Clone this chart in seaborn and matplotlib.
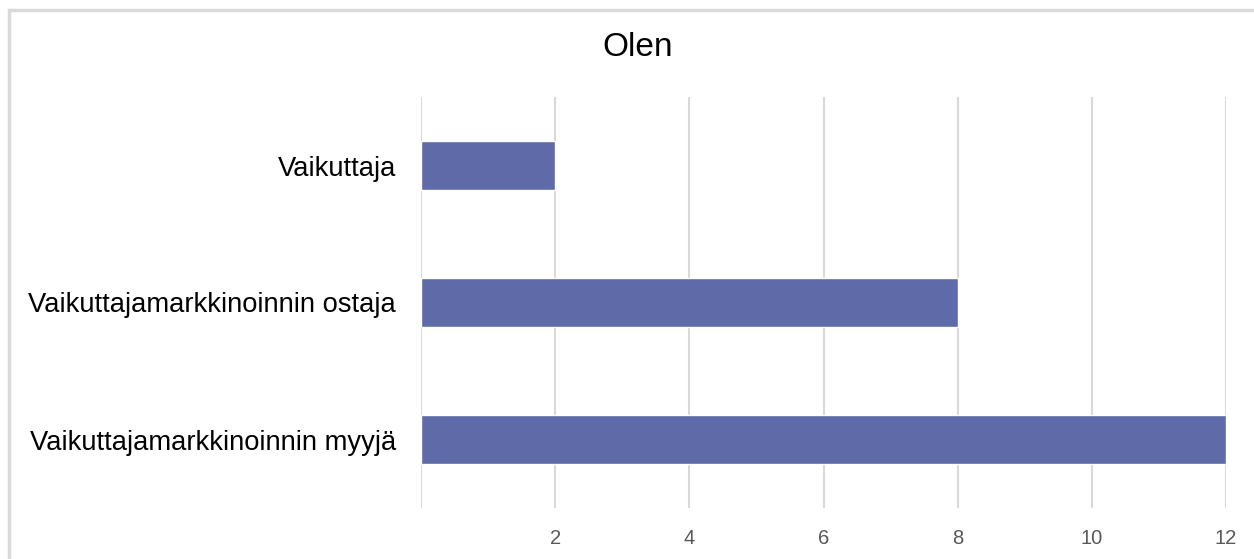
import matplotlib
matplotlib.use("Agg")
import matplotlib.pyplot as plt
import seaborn as sns
import pandas as pd
from matplotlib.patches import Rectangle

categories = ["Vaikuttaja", "Vaikuttajamarkkinoinnin ostaja", "Vaikuttajamarkkinoinnin myyjä"]
values = [2, 8, 12]
x_ticks = [0, 2, 4, 6, 8, 10, 12]
x_tick_labels = ["", "2", "4", "6", "8", "10", "12"]
title = "Olen"

sns.set_theme(style="white")
plt.rcParams["font.family"] = ["Liberation Sans", "DejaVu Sans"]

df = pd.DataFrame({"cat": categories, "val": values})

fig = plt.figure(figsize=(12.54, 5.59), dpi=100)
ax = fig.add_axes([421/1254, 1 - 508/559, (1226 - 421)/1254, (508 - 97)/559])

# frame border around chart (cropped on right/bottom)
fig.patches.append(Rectangle((9/1254, -0.05), 1.1, 1 - 10/559 + 0.05,
                             transform=fig.transFigure, fill=False,
                             edgecolor="#d9d9d9", linewidth=2.5, zorder=0))

sns.barplot(data=df, x="val", y="cat", orient="h", color="#5f6aa8",
            saturation=1, width=0.36, ax=ax, zorder=3)

ax.set_xlim(0, 12)
ax.set_ylim(2.5, -0.5)
ax.set_xticks(x_ticks)
ax.set_xticklabels(x_tick_labels, fontsize=14.5, color="#595959",
                   family=["Liberation Sans Narrow", "Liberation Sans", "DejaVu Sans"])
ax.tick_params(axis="x", length=0, pad=15)
ax.tick_params(axis="y", length=0, pad=18, labelsize=19.7, labelcolor="black")
ax.grid(axis="x", color="#d9d9d9", linewidth=1.5, zorder=0)
ax.grid(axis="y", visible=False)
for s in ax.spines.values():
    s.set_visible(False)
ax.set_xlabel("")
ax.set_ylabel("")
ax.set_axisbelow(True)

fig.text(638/1254, 1 - 48/559, title, ha="center", va="center", fontsize=24, color="black")

fig.savefig("out.png", dpi=100)
